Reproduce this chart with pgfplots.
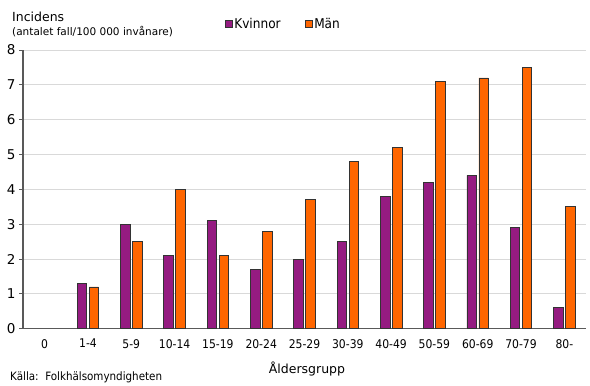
\documentclass[border=0pt]{standalone}
\usepackage{fontspec}
\setmainfont{DejaVu Sans}
\newfontfamily\cond{DejaVu Sans Condensed}
\usepackage{pgfplots}
\pgfplotsset{compat=1.18}
\definecolor{kv}{HTML}{951B81}
\definecolor{ma}{HTML}{FF6600}
\definecolor{edge}{HTML}{333333}
\definecolor{gridc}{HTML}{D9D9D9}
\definecolor{axc}{HTML}{595959}
\begin{document}
\begin{tikzpicture}
\useasboundingbox (0,0) rectangle (590bp,386bp);
\begin{axis}[
  at={(23bp,57.3bp)}, anchor=south west,
  scale only axis, width=563bp, height=278.7bp,
  ybar=2.5bp, bar width=9.5bp,
  xmin=-0.5, xmax=12.5, ymin=0, ymax=8,
  xtick={0,...,12},
  xticklabels={0,1-4,5-9,10-14,15-19,20-24,25-29,30-39,40-49,50-59,60-69,70-79,80-},
  ytick={0,...,8},
  axis x line*=bottom, axis y line*=left,
  axis line style={axc, line width=1.2pt},
  x axis line style={-}, y axis line style={-},
  xtick style={draw=none},
  ytick style={axc, line width=0.8pt},
  tick align=outside, major tick length=4bp,
  ymajorgrids, grid style={gridc, line width=0.8pt},
  xticklabel style={font=\cond\fontsize{12bp}{14bp}\selectfont, yshift=-3bp},
  yticklabel style={font=\fontsize{13.5bp}{15bp}\selectfont},
  /pgf/number format/assume math mode=true,
  legend style={at={(0.358,1.093)}, anchor=west, draw=none, fill=none,
    font=\cond\fontsize{13.5bp}{15bp}\selectfont, inner sep=0pt,
    /tikz/every even column/.append style={column sep=22bp}},
  legend columns=2,
  legend image code/.code={\draw[#1, line width=0.6pt] (0bp,-3.5bp) rectangle (7bp,3.5bp);},
]
\addplot[fill=kv, draw=edge, line width=0.7pt] coordinates {
(1,1.3) (2,3.0) (3,2.1) (4,3.1) (5,1.7) (6,2.0) (7,2.5) (8,3.8) (9,4.2) (10,4.4) (11,2.9) (12,0.6)};
\addplot[fill=ma, draw=edge, line width=0.7pt] coordinates {
(1,1.2) (2,2.5) (3,4.0) (4,2.1) (5,2.8) (6,3.7) (7,4.8) (8,5.2) (9,7.1) (10,7.2) (11,7.5) (12,3.5)};
\legend{Kvinnor, Män}
\end{axis}
\node[anchor=base west, inner sep=0pt, font=\fontsize{12.5bp}{14bp}\selectfont] at (12bp,364bp) {Incidens};
\node[anchor=base west, inner sep=0pt, font=\fontsize{10.5bp}{12bp}\selectfont] at (12bp,350bp) {(antalet fall/100 000 invånare)};
\node[anchor=center, inner sep=0pt, font=\fontsize{12.5bp}{14bp}\selectfont] at (307bp,17bp) {Åldersgrupp};
\node[anchor=base west, inner sep=0pt, font=\cond\fontsize{11.5bp}{13bp}\selectfont] at (10bp,6bp) {Källa:\ \ Folkhälsomyndigheten};
\end{tikzpicture}
\end{document}
